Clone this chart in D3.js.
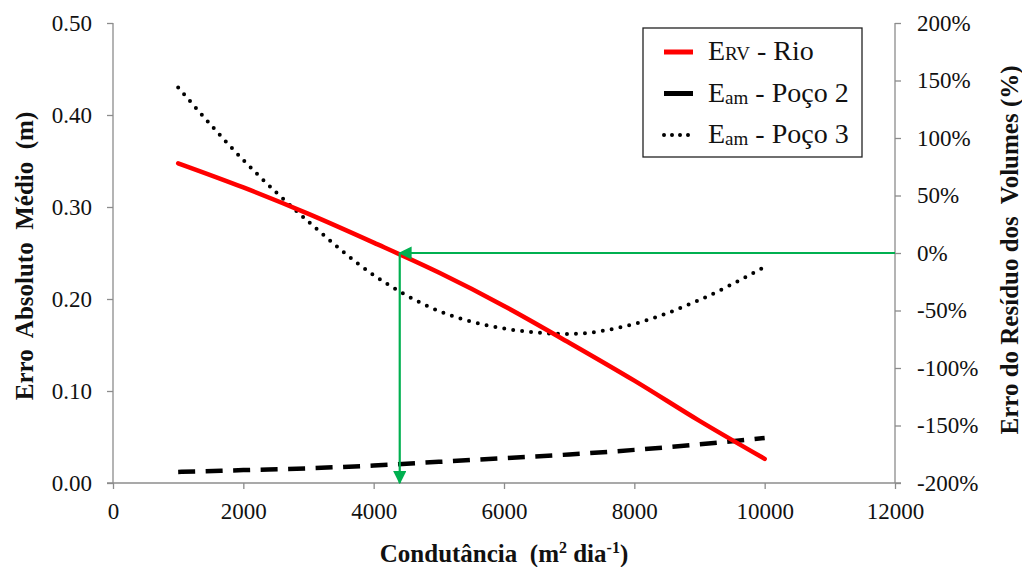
<!DOCTYPE html>
<html>
<head>
<meta charset="utf-8">
<script src="https://cdn.jsdelivr.net/npm/d3@7"></script>
<style>
body { margin: 0; background: #fff; }
svg { display: block; font-family: "Liberation Serif", "Times New Roman", serif; }
.axis line { stroke: #8c8c8c; stroke-width: 1.3; }
.axis text { font-family: "Liberation Serif", serif; font-size: 23px; fill: #111; }
.title { font-weight: bold; font-size: 25px; fill: #111; white-space: pre; }
</style>
</head>
<body>
<svg width="1022" height="567"></svg>
<script>
// condutancia (m2 dia-1)
var conductance = [1000, 2000, 3000, 4000, 5000, 6000, 7000, 8000, 9000, 10000];
// erro do residuo dos volumes (%) - eixo direito
var erv_rio = [78, 57, 34, 9, -17, -46, -78, -111, -146, -179];
// erro absoluto medio (m) - eixo esquerdo
var eam_poco2 = [0.012, 0.014, 0.016, 0.019, 0.023, 0.027, 0.031, 0.036, 0.042, 0.049];
var eam_poco3 = [0.430, 0.351, 0.284, 0.226, 0.187, 0.168, 0.162, 0.173, 0.199, 0.235];

var x_ticks = [0, 2000, 4000, 6000, 8000, 10000, 12000];
var left_ticks = [0, 0.1, 0.2, 0.3, 0.4, 0.5];
var right_ticks = [-200, -150, -100, -50, 0, 50, 100, 150, 200];

// ponto onde o erro de volume cruza 0%
var cross_x = 4400;
var cross_pct = 0;

var margin = { top: 23, right: 127, bottom: 84, left: 113 };
var width = 1022 - margin.left - margin.right;
var height = 567 - margin.top - margin.bottom;
var axis_color = "#8c8c8c";

var svg = d3.select("svg");
var g = svg.append("g")
    .attr("transform", "translate(" + margin.left + "," + margin.top + ")");

var x_scale = d3.scaleLinear().domain([0, 12000]).range([0, width]);
var y_left = d3.scaleLinear().domain([0, 0.5]).range([height, 0]);
var y_right = d3.scaleLinear().domain([-200, 200]).range([height, 0]);

svg.append("defs").append("marker")
    .attr("id", "arrow")
    .attr("viewBox", "0 0 10 10")
    .attr("refX", 9).attr("refY", 5)
    .attr("markerWidth", 6).attr("markerHeight", 6)
    .attr("markerUnits", "strokeWidth")
    .attr("orient", "auto")
    .append("path")
    .attr("d", "M0,0L10,5L0,10Z")
    .attr("fill", "#00b050");

// eixos
g.append("g")
    .attr("class", "x axis")
    .attr("transform", "translate(0," + height + ")")
    .call(d3.axisBottom(x_scale).tickValues(x_ticks).tickFormat(d3.format("d")).tickSize(6).tickPadding(14));

g.append("g")
    .attr("class", "y axis")
    .call(d3.axisLeft(y_left).tickValues(left_ticks).tickFormat(d3.format(".2f")).tickSize(6).tickPadding(15));

g.append("g")
    .attr("class", "y axis")
    .attr("transform", "translate(" + width + ",0)")
    .call(d3.axisRight(y_right).tickValues(right_ticks).tickFormat(function(d) { return d + "%"; }).tickSize(6).tickPadding(16));

g.selectAll(".axis .domain").remove();
g.append("line").attr("x1", -6).attr("x2", width + 6).attr("y1", height).attr("y2", height)
    .attr("stroke", axis_color).attr("stroke-width", 1.3);
g.append("line").attr("x1", 0).attr("x2", 0).attr("y1", 0).attr("y2", height)
    .attr("stroke", axis_color).attr("stroke-width", 1.3);
g.append("line").attr("x1", width).attr("x2", width).attr("y1", 0).attr("y2", height)
    .attr("stroke", axis_color).attr("stroke-width", 1.3);

// linhas
var line_left = d3.line()
    .x(function(d, i) { return x_scale(conductance[i]); })
    .y(function(d) { return y_left(d); })
    .curve(d3.curveMonotoneX);
var line_right = d3.line()
    .x(function(d, i) { return x_scale(conductance[i]); })
    .y(function(d) { return y_right(d); })
    .curve(d3.curveMonotoneX);

g.append("path")
    .datum(eam_poco3)
    .attr("fill", "none")
    .attr("stroke", "#000")
    .attr("stroke-width", 4)
    .attr("stroke-linecap", "round")
    .attr("stroke-dasharray", "0,9")
    .attr("d", line_left);

g.append("path")
    .datum(eam_poco2)
    .attr("fill", "none")
    .attr("stroke", "#000")
    .attr("stroke-width", 4.5)
    .attr("stroke-dasharray", "17,10.5")
    .attr("d", line_left);

g.append("path")
    .datum(erv_rio)
    .attr("fill", "none")
    .attr("stroke", "#ff0000")
    .attr("stroke-width", 4.5)
    .attr("stroke-linecap", "round")
    .attr("d", line_right);

// setas verdes
g.append("line")
    .attr("x1", width).attr("y1", y_right(cross_pct))
    .attr("x2", x_scale(cross_x)).attr("y2", y_right(cross_pct))
    .attr("stroke", "#00b050").attr("stroke-width", 2.2)
    .attr("marker-end", "url(#arrow)");
g.append("line")
    .attr("x1", x_scale(cross_x)).attr("y1", y_right(cross_pct))
    .attr("x2", x_scale(cross_x)).attr("y2", height)
    .attr("stroke", "#00b050").attr("stroke-width", 2.2)
    .attr("marker-end", "url(#arrow)");

// titulos
svg.append("text")
    .attr("class", "title")
    .attr("text-anchor", "middle")
    .attr("transform", "translate(33,256) rotate(-90)")
    .text("Erro  Absoluto  Médio  (m)");

svg.append("text")
    .attr("class", "title")
    .attr("text-anchor", "middle")
    .attr("transform", "translate(1018,250) rotate(-90)")
    .text("Erro do Resíduo dos  Volumes (%)");

var xt = svg.append("text")
    .attr("class", "title")
    .attr("text-anchor", "middle")
    .attr("font-size", "24.5px")
    .attr("x", 504)
    .attr("y", 562);
xt.append("tspan").text("Condutância  (m");
xt.append("tspan").attr("font-size", "16px").attr("dy", -9).text("2");
xt.append("tspan").attr("dy", 9).text(" dia");
xt.append("tspan").attr("font-size", "16px").attr("dy", -9).text("-1");
xt.append("tspan").attr("dy", 9).text(")");

// legenda
var legend_items = [
    { main: "E", sub: "RV", sub_dy: 0, rest: " - Rio", color: "#ff0000", dash: null, cap: "butt", w: 5 },
    { main: "E", sub: "am", sub_dy: 2, rest: " - Poço 2", color: "#000", dash: null, cap: "butt", w: 5 },
    { main: "E", sub: "am", sub_dy: 2, rest: " - Poço 3", color: "#000", dash: "0,8", cap: "round", w: 4 }
];
var legend = svg.append("g").attr("transform", "translate(643,28)");
legend.append("rect")
    .attr("width", 219).attr("height", 129)
    .attr("fill", "#fff").attr("stroke", "#222").attr("stroke-width", 1.3);
var row = legend.selectAll(".row")
    .data(legend_items)
    .enter().append("g")
    .attr("transform", function(d, i) { return "translate(0," + (24 + i * 41.5) + ")"; });
row.append("line")
    .attr("x1", 21).attr("x2", 50).attr("y1", 0).attr("y2", 0)
    .attr("stroke", function(d) { return d.color; })
    .attr("stroke-width", function(d) { return d.w; })
    .attr("stroke-linecap", function(d) { return d.cap; })
    .attr("stroke-dasharray", function(d) { return d.dash; });
var lt = row.append("text")
    .attr("x", 65).attr("y", 8)
    .attr("font-size", "28px")
    .attr("fill", "#111");
lt.append("tspan").text(function(d) { return d.main; });
lt.append("tspan").attr("font-size", "19px").attr("dy", function(d) { return d.sub_dy; }).text(function(d) { return d.sub; });
lt.append("tspan").attr("dy", function(d) { return -d.sub_dy; }).text(function(d) { return d.rest; });
</script>
</body>
</html>
